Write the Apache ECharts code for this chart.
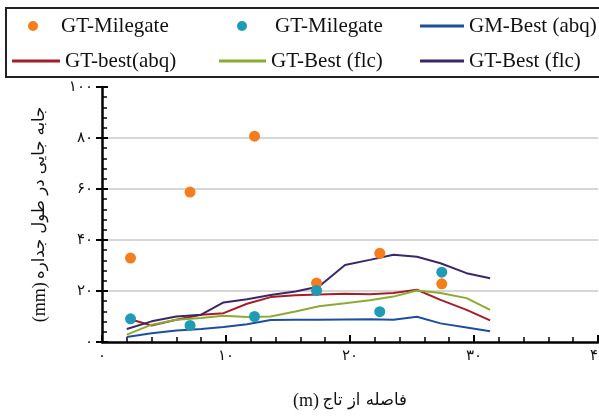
<!DOCTYPE html>
<html>
<head>
<meta charset="utf-8">
<style>
  html, body { margin: 0; padding: 0; background: #fff; }
  #chart { width: 599px; height: 418px; }
</style>
<script src="https://cdn.jsdelivr.net/npm/echarts@6/dist/echarts.min.js"></script>
</head>
<body>
<div id="chart"></div>
<script>
// Wall displacement along the wall: measured points and best-fit model curves

// Measured points (distance from crest in m, displacement in mm)
const milegateX = [2.3, 7.1, 12.3, 17.3, 22.4, 27.4];
const milegateOrange = [32.9, 58.8, 80.7, 23.1, 34.8, 22.8];
const milegateTeal = [9.1, 6.5, 10.0, 20.2, 11.9, 27.4];

// Model curves sampled along the wall
const curveX = [2, 4, 6, 8, 9.8, 11.7, 13.6, 15.6, 17.5, 19.6, 21.6, 23.5, 25.4, 27.3, 29.4, 31.3];
const gmBestAbq = [2.0, 3.4, 4.5, 5.1, 5.9, 7.0, 8.6, 8.7, 8.7, 8.8, 8.9, 8.7, 9.9, 7.3, 5.7, 4.2];
const gtBestAbq = [9.3, 6.5, 8.7, 10.7, 11.3, 15.0, 17.6, 18.3, 18.6, 18.9, 18.7, 19.2, 20.5, 16.5, 12.6, 8.5];
const gtBestFlcGreen = [2.9, 6.8, 8.7, 9.4, 10.3, 9.8, 10.0, 12.0, 14.0, 15.2, 16.4, 17.8, 20.2, 19.2, 17.2, 12.6];
const gtBestFlcPurple = [5.1, 8.1, 10.0, 10.7, 15.5, 16.8, 18.4, 19.8, 21.8, 30.2, 32.2, 34.2, 33.4, 30.9, 27.0, 25.0];

// Tick labels (Persian digits)
const xTickLabels = ['۰', '۱۰', '۲۰', '۳۰', '۴۰'];
const yTickLabels = ['۰', '۲۰', '۴۰', '۶۰', '۸۰', '۱۰۰'];

// Legend texts keyed by series id
const legendText = {
  milegateA: 'GT-Milegate',
  milegateB: 'GT-Milegate',
  gmAbq: 'GM-Best (abq)',
  gtAbq: 'GT-best(abq)',
  flcA: 'GT-Best (flc)',
  flcB: 'GT-Best (flc)'
};

const colors = {
  orange: '#f47d1e',
  teal: '#1f9bb6',
  blue: '#1f4f9c',
  red: '#a51d27',
  green: '#8cab33',
  purple: '#3b2768'
};

const pairs = (xs, ys) => xs.map((x, i) => [x, ys[i]]);

function legendAt(key, left, top, w, h, icon, textGap) {
  return {
    data: [{ name: key, icon: icon }],
    left: left,
    top: top,
    padding: 0,
    itemGap: 0,
    itemWidth: w,
    itemHeight: h,
    selectedMode: false,
    formatter: (name) => legendText[name],
    textStyle: {
      fontFamily: 'Liberation Serif', fontSize: 21, color: '#111', lineHeight: 24,
      padding: [0, 0, 0, textGap || 0]
    }
  };
}

const axisNameRich = {
  u: { fontFamily: 'Liberation Serif', fontSize: 18, color: '#111' },
  a: { fontFamily: 'DejaVu Sans', fontSize: 16.5, color: '#111' }
};

const chart = echarts.init(document.getElementById('chart'), null, { renderer: 'canvas' });

chart.setOption({
  animation: false,
  backgroundColor: '#fff',
  grid: { left: 102, right: 1, top: 87, bottom: 76, containLabel: false, outerBoundsMode: 'none' },
  graphic: [{
    type: 'rect',
    shape: { x: 6, y: 8, width: 620, height: 69 },
    style: { fill: 'none', stroke: '#222', lineWidth: 2 },
    silent: true
  }],
  legend: [
    legendAt('milegateA', 28, 14, 10, 10, 'circle', 18),
    legendAt('milegateB', 237, 14, 10, 10, 'circle', 23),
    legendAt('gmAbq', 420, 14, 44, 3, 'rect'),
    legendAt('gtAbq', 12, 49, 48, 3, 'rect'),
    legendAt('flcA', 219, 49, 47, 3, 'rect'),
    legendAt('flcB', 420, 49, 44, 3, 'rect')
  ],
  xAxis: {
    type: 'value',
    min: 0, max: 40, interval: 10,
    name: '{u|(m)} {a|فاصله از تاج}',
    nameLocation: 'middle',
    nameGap: 50,
    nameTextStyle: { rich: axisNameRich },
    axisLine: { show: true, onZero: false, lineStyle: { color: '#000', width: 2.5 } },
    axisTick: { show: true, inside: true, length: 7, lineStyle: { color: '#000', width: 2 } },
    minorTick: { show: true, splitNumber: 5, length: 5, lineStyle: { color: '#000', width: 1.5 } },
    splitLine: { show: false },
    axisLabel: {
      margin: 7,
      fontFamily: 'DejaVu Sans', fontSize: 15, color: '#111',
      formatter: (v) => xTickLabels[Math.round(v / 10)]
    }
  },
  yAxis: [{
    type: 'value',
    min: 0, max: 100, interval: 20,
    name: '{u|(mm)} {a|جابه جایی در طول جداره}',
    nameLocation: 'middle',
    nameGap: 53,
    nameTextStyle: { rich: axisNameRich },
    axisLine: { show: true, onZero: false, lineStyle: { color: '#000', width: 2.5 } },
    axisTick: { show: true, inside: true, length: 6, lineStyle: { color: '#000', width: 2 } },
    minorTick: { show: true, splitNumber: 5, length: 5, lineStyle: { color: '#000', width: 1.5 } },
    splitLine: { show: true, showMinLine: false, showMaxLine: false, lineStyle: { color: '#c9c9c9', width: 1.5 } },
    axisLabel: {
      margin: 9,
      fontFamily: 'DejaVu Sans', fontSize: 15, color: '#111',
      formatter: (v) => yTickLabels[Math.round(v / 20)]
    }
  }, {
    // outward half of the major ticks
    type: 'value',
    position: 'left',
    min: 0, max: 100, interval: 20,
    axisLine: { show: false },
    axisTick: { show: true, inside: false, length: 6, lineStyle: { color: '#000', width: 2 } },
    axisLabel: { show: false },
    splitLine: { show: false }
  }],
  series: [
    {
      id: 'gmAbq', name: 'gmAbq', type: 'line', symbol: 'none', z: 2,
      data: pairs(curveX, gmBestAbq),
      lineStyle: { color: colors.blue, width: 2 }, itemStyle: { color: colors.blue }
    },
    {
      id: 'gtAbq', name: 'gtAbq', type: 'line', symbol: 'none', z: 2,
      data: pairs(curveX, gtBestAbq),
      lineStyle: { color: colors.red, width: 2 }, itemStyle: { color: colors.red }
    },
    {
      id: 'flcA', name: 'flcA', type: 'line', symbol: 'none', z: 2,
      data: pairs(curveX, gtBestFlcGreen),
      lineStyle: { color: colors.green, width: 2 }, itemStyle: { color: colors.green }
    },
    {
      id: 'flcB', name: 'flcB', type: 'line', symbol: 'none', z: 2,
      data: pairs(curveX, gtBestFlcPurple),
      lineStyle: { color: colors.purple, width: 2 }, itemStyle: { color: colors.purple }
    },
    {
      id: 'milegateA', name: 'milegateA', type: 'scatter', symbol: 'circle', symbolSize: 11, z: 5,
      data: pairs(milegateX, milegateOrange),
      itemStyle: { color: colors.orange, opacity: 1 }
    },
    {
      id: 'milegateB', name: 'milegateB', type: 'scatter', symbol: 'circle', symbolSize: 11, z: 5,
      data: pairs(milegateX, milegateTeal),
      itemStyle: { color: colors.teal, opacity: 1 }
    }
  ]
});
</script>
</body>
</html>
